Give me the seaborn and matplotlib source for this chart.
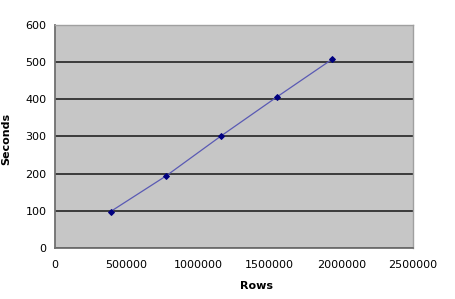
import matplotlib
matplotlib.use("Agg")
import matplotlib.pyplot as plt
import seaborn as sns
import pandas as pd

rows = [388000, 776000, 1158000, 1552000, 1936000]
seconds = [98, 194, 301, 407, 508]
x_ticks = [0, 500000, 1000000, 1500000, 2000000, 2500000]
y_ticks = [0, 100, 200, 300, 400, 500, 600]

df = pd.DataFrame({"Rows": rows, "Seconds": seconds})

sns.set_style("white")
plt.rcParams["font.family"] = ["DejaVu Sans"]
plt.rcParams["text.color"] = "black"
plt.rcParams["axes.labelcolor"] = "black"

fig = plt.figure(figsize=(4.56, 2.99), dpi=100)
ax = fig.add_axes([0.1206, 0.1706, 0.7851, 0.7458])
ax.set_facecolor("#c6c6c6")

sns.lineplot(data=df, x="Rows", y="Seconds", ax=ax, color="#5a5ab4", linewidth=0.9,
             marker="D", markersize=3, markerfacecolor="#000080", markeredgecolor="#000080",
             zorder=3)

ax.set_xlim(0, 2500000)
ax.set_ylim(0, 600)
ax.set_xticks(x_ticks)
ax.set_xticklabels([str(v) for v in x_ticks])
ax.set_yticks(y_ticks)
ax.set_yticklabels([str(v) for v in y_ticks])

ax.grid(axis="y", color="#303030", linewidth=1.3)
ax.grid(axis="x", visible=False)
ax.set_axisbelow(True)

for side in ["left", "bottom"]:
    ax.spines[side].set_color("#707070")
    ax.spines[side].set_linewidth(1.3)
for side in ["right", "top"]:
    ax.spines[side].set_color("#a0a0a0")
    ax.spines[side].set_linewidth(1.0)

ax.tick_params(axis="both", which="major", direction="out", length=3, width=1,
               color="#505050", labelsize=8, labelcolor="#000000", pad=3)
ax.tick_params(axis="x", pad=6)

ax.set_xlabel("Rows", fontsize=8, fontweight="bold", color="black")
ax.set_ylabel("Seconds", fontsize=8, fontweight="bold", color="black")
ax.xaxis.set_label_coords(0.564, -0.148)
ax.yaxis.set_label_coords(-0.123, 0.49)

fig.savefig("out.png", dpi=100)
